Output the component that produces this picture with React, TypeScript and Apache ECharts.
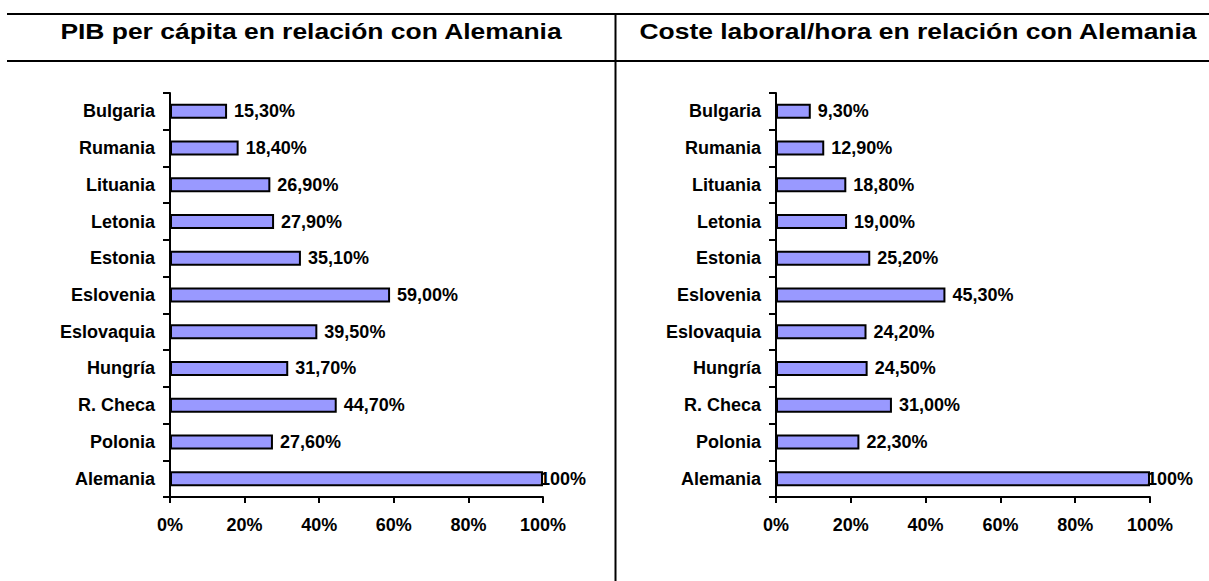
import React, { useEffect, useRef } from "react";
import * as echarts from "echarts";

const countries = [
  "Bulgaria",
  "Rumania",
  "Lituania",
  "Letonia",
  "Estonia",
  "Eslovenia",
  "Eslovaquia",
  "Hungría",
  "R. Checa",
  "Polonia",
  "Alemania",
];
const pibValues = [15.3, 18.4, 26.9, 27.9, 35.1, 59.0, 39.5, 31.7, 44.7, 27.6, 100];
const costeValues = [9.3, 12.9, 18.8, 19.0, 25.2, 45.3, 24.2, 24.5, 31.0, 22.3, 100];
const titles = [
  "PIB per cápita en relación con Alemania",
  "Coste laboral/hora en relación con Alemania",
];
const xTicks = [0, 20, 40, 60, 80, 100];

const FONT = "Arial, 'Liberation Sans', Helvetica, sans-serif";
const LABEL_SIZE = 18;

function fmt(v: number): string {
  if (v === 100) return "100%";
  return v.toFixed(2).replace(".", ",") + "%";
}

export default function App() {
  const ref = useRef<HTMLDivElement>(null);
  useEffect(() => {
    if (!ref.current) return;
    const chart = echarts.init(ref.current, null, { renderer: "svg" });

    const grids = [
      { left: 170, top: 93, width: 373, height: 404 },
      { left: 776, top: 93, width: 374, height: 404 },
    ];

    const mkY = (i: number) => ({
      type: "category" as const,
      gridIndex: i,
      data: countries,
      inverse: true,
      axisLine: { show: true, lineStyle: { color: "#000", width: 2 } },
      axisTick: { show: true, length: 7, alignWithLabel: false, lineStyle: { color: "#000", width: 2 } },
      axisLabel: {
        color: "#000",
        fontWeight: "bold" as const,
        fontSize: LABEL_SIZE,
        fontFamily: FONT,
        margin: 15,
      },
      splitLine: { show: false },
    });

    const mkX = (i: number) => ({
      type: "value" as const,
      gridIndex: i,
      min: xTicks[0],
      max: xTicks[xTicks.length - 1],
      interval: 20,
      axisLine: { show: true, lineStyle: { color: "#000", width: 2 } },
      axisTick: { show: true, length: 6, lineStyle: { color: "#000", width: 2 } },
      axisLabel: {
        color: "#000",
        fontWeight: "bold" as const,
        fontSize: LABEL_SIZE,
        fontFamily: FONT,
        margin: 19,
        formatter: "{value}%",
      },
      splitLine: { show: false },
    });

    const mkSeries = (i: number, vals: number[]) => ({
      type: "bar" as const,
      xAxisIndex: i,
      yAxisIndex: i,
      barWidth: 15,
      data: vals.map((v) =>
        v === 100
          ? { value: v, label: { distance: -3 } }
          : { value: v }
      ),
      itemStyle: { color: "#9999FF", borderColor: "#000", borderWidth: 2 },
      label: {
        show: true,
        position: "right" as const,
        distance: 7,
        color: "#000",
        fontWeight: "bold" as const,
        fontSize: LABEL_SIZE,
        fontFamily: FONT,
        formatter: (p: any) => fmt(p.value),
      },
    });

    const lineStyle = { stroke: "#000", lineWidth: 2 };

    chart.setOption({
      animation: false,
      backgroundColor: "#fff",
      grid: grids,
      xAxis: [mkX(0), mkX(1)],
      yAxis: [mkY(0), mkY(1)],
      series: [mkSeries(0, pibValues), mkSeries(1, costeValues)],
      graphic: [
        { type: "line", shape: { x1: 7, y1: 14, x2: 1209, y2: 14 }, style: lineStyle, silent: true },
        { type: "line", shape: { x1: 7, y1: 61, x2: 1209, y2: 61 }, style: lineStyle, silent: true },
        { type: "line", shape: { x1: 615.5, y1: 13, x2: 615.5, y2: 581 }, style: lineStyle, silent: true },
        {
          type: "text",
          x: 311,
          y: 31,
          scaleX: 1.17,
          style: {
            text: titles[0],
            fontSize: 22.6,
            fontWeight: "bold",
            fontFamily: FONT,
            fill: "#000",
            textAlign: "center",
            textVerticalAlign: "middle",
          },
        },
        {
          type: "text",
          x: 918,
          y: 31,
          scaleX: 1.17,
          style: {
            text: titles[1],
            fontSize: 22.6,
            fontWeight: "bold",
            fontFamily: FONT,
            fill: "#000",
            textAlign: "center",
            textVerticalAlign: "middle",
          },
        },
      ],
    });

    return () => chart.dispose();
  }, []);

  return (
    <div
      ref={ref}
      style={{ position: "absolute", left: 0, top: 0, width: 1209, height: 581 }}
    />
  );
}
